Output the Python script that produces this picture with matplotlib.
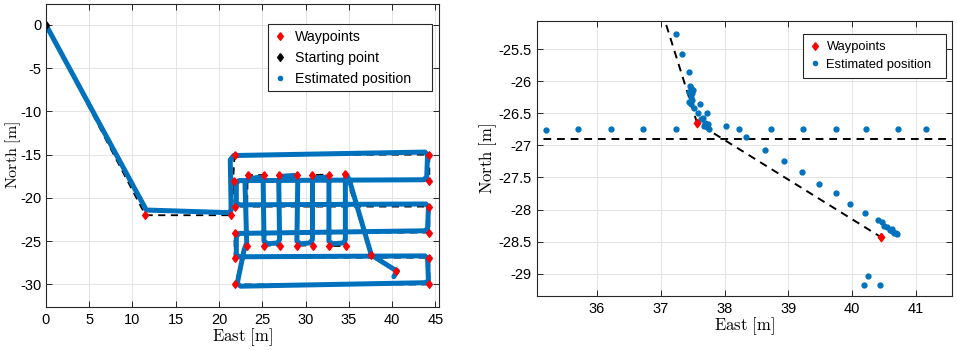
import matplotlib
matplotlib.use("Agg")
from matplotlib import pyplot as plt

plt.rcParams['axes.unicode_minus'] = False
plt.rcParams['font.family'] = ['Liberation Sans', 'DejaVu Sans']
plt.rcParams['mathtext.fontset'] = 'cm'

# -------------- data --------------

# reference path through the waypoints (dashed)
ref_east = [0, 11.5, 21.4, 21.8, 44.3, 44.3, 21.7, 21.8, 44.3, 44.3, 21.8, 21.8, 44.3,
            44.3, 21.8, 23.2, 23.3, 25.15, 25.15, 27.0, 26.9, 29.0, 29.0, 30.85, 30.8,
            32.7, 32.7, 34.7, 34.6, 37.57, 40.45]
ref_north = [0, -22.0, -22.0, -15.0, -15.0, -18.0, -18.0, -21.0, -21.0, -24.0, -24.0, -26.9,
             -26.9, -30.0, -30.0, -25.5, -17.35, -17.35, -25.5, -25.5, -17.35, -17.35, -25.5,
             -25.5, -17.35, -17.3, -25.55, -25.55, -17.25, -26.65, -28.43]

# waypoints (red diamonds)
wp_east = [11.5, 21.4, 21.8, 44.3, 21.7, 44.3, 21.8, 44.3, 21.8, 44.3, 21.8, 44.3, 21.8, 44.3,
           23.3, 25.15, 26.9, 29.0, 30.8, 32.7, 34.6,
           23.2, 25.15, 27.0, 29.0, 30.85, 32.7, 34.7,
           37.57, 40.45]
wp_north = [-22.0, -22.0, -15.0, -15.0, -18.0, -18.0, -21.0, -21.0, -24.0, -24.0, -27.0, -27.0,
            -30.0, -30.0,
            -17.35, -17.35, -17.35, -17.35, -17.35, -17.3, -17.25,
            -25.5, -25.5, -25.5, -25.5, -25.5, -25.55, -25.55,
            -26.65, -28.43]

start_east = [0.0]
start_north = [0.0]

# estimated trajectory, whole run (left panel)
est_east = [0, 11.6, 21.1, 21.4, 21.3, 21.7, 43.8, 44.1, 44.0, 43.6, 22.3, 22.0, 22.0, 22.4,
            43.9, 44.2, 44.1, 43.7, 22.4, 22.0, 22.0, 22.4, 43.8, 44.1, 44.2, 43.8, 22.5,
            22.1, 22.9, 23.2, 23.0, 23.4, 24.7, 25.1, 25.2, 25.6, 26.8, 27.0, 26.9, 27.3,
            28.7, 29.1, 29.0, 29.4, 30.5, 30.8, 30.8, 31.2, 32.4, 32.7, 32.7, 33.1, 34.4,
            34.6, 34.6, 34.8, 35.2, 37.6, 40.3, 40.6, 40.2]
est_north = [0, -21.4, -21.7, -21.4, -15.6, -15.1, -14.7, -15.0, -17.6, -17.9, -18.0, -18.3,
             -20.6, -20.8, -20.7, -21.0, -23.6, -23.8, -24.1, -24.4, -26.6, -26.8, -26.7,
             -27.0, -29.6, -29.8, -30.2, -29.9, -26.0, -25.2, -18.2, -17.8, -17.6, -18.0,
             -25.0, -25.3, -25.2, -24.8, -17.9, -17.5, -17.4, -17.9, -25.0, -25.3, -25.2,
             -24.8, -18.0, -17.7, -17.6, -18.0, -25.0, -25.3, -25.2, -24.8, -17.7, -17.4,
             -18.4, -26.6, -28.3, -28.4, -29.1]

# estimated positions around the last turn (right panel)
zoom_east = [35.21, 35.71, 36.22, 36.72, 37.24, 38.03, 38.23, 38.73, 39.23, 39.74, 40.22,
             40.72, 41.15, 38.33, 38.64, 38.93, 39.21, 39.48, 39.74, 39.97, 40.20, 40.40,
             40.46, 40.50, 40.55, 40.60, 40.62, 40.63, 40.66, 40.68, 40.70,
             40.19, 40.25, 40.44,
             37.24, 37.34, 37.44, 37.46, 37.48, 37.51, 37.45, 37.49, 37.47, 37.49, 37.45,
             37.48, 37.52, 37.62, 37.58, 37.72, 37.67, 37.63, 37.70, 37.74, 37.72, 37.75,
             37.68]
zoom_north = [-26.76, -26.74, -26.74, -26.74, -26.75, -26.70, -26.74, -26.74, -26.74, -26.74,
              -26.74, -26.74, -26.74, -26.87, -27.07, -27.25, -27.42, -27.60, -27.75, -27.91,
              -28.05, -28.17, -28.20, -28.25, -28.27, -28.32, -28.30, -28.34, -28.36, -28.37,
              -28.38,
              -29.17, -29.03, -29.17,
              -25.27, -25.57, -25.85, -26.08, -26.11, -26.13, -26.17, -26.19, -26.24, -26.29,
              -26.32, -26.35, -26.41, -26.36, -26.50, -26.50, -26.57, -26.59, -26.65, -26.66,
              -26.71, -26.74, -26.70]

blue = '#0072BD'
label_east = r'$\mathrm{East}\ [\mathrm{m}]$'
label_north = r'$\mathrm{North}\ [\mathrm{m}]$'
# MATLAB style diamond, a bit wider than matplotlib's thin one
diamond = [(0, 1), (0.75, 0), (0, -1), (-0.75, 0), (0, 1)]


def style_axes(ax):
    ax.grid(True, color='#e3e3e3', linewidth=0.7)
    ax.set_axisbelow(True)
    ax.tick_params(direction='in', top=True, right=True, length=4, width=0.7,
                   labelsize=10.5, colors='#262626', labelcolor='black', pad=4)
    for s in ax.spines.values():
        s.set_color('#262626')
        s.set_linewidth(0.8)


def frame_legend(leg):
    leg.get_frame().set_edgecolor('#262626')
    leg.get_frame().set_linewidth(0.8)


fig = plt.figure(figsize=(9.57, 3.5), dpi=100)

# -------------- left: whole mission --------------
ax1 = fig.add_axes([0.048, 0.123, 0.411, 0.866])
ax1.plot(ref_east, ref_north, '--', color='black', linewidth=1.3, dashes=(4, 3))
ax1.plot(est_east, est_north, '-', color=blue, linewidth=3.6, solid_capstyle='round',
         solid_joinstyle='round')
ax1.plot(wp_east, wp_north, marker=diamond, color='red', markersize=5.5, linestyle='none')
ax1.plot(start_east, start_north, marker=diamond, color='black', markersize=5.5,
         linestyle='none')
h_wp, = ax1.plot([], [], marker=diamond, color='red', markersize=5.5, linestyle='none')
h_st, = ax1.plot([], [], marker=diamond, color='black', markersize=5.5, linestyle='none')
h_est, = ax1.plot([], [], '.', color=blue, markersize=6, linestyle='none')
ax1.set_xlim(0, 45.45)
ax1.set_ylim(-32.6, 2.43)
ax1.set_xticks(range(0, 46, 5))
ax1.set_yticks(range(-30, 1, 5))
style_axes(ax1)
ax1.tick_params(axis='y', pad=3)
ax1.set_xlabel(label_east, fontsize=12, labelpad=0)
ax1.set_ylabel(label_north, fontsize=11.5, labelpad=-1.5)
# trailing spaces give the wide right margin of the MATLAB legend box
leg1 = ax1.legend([h_wp, h_st, h_est],
                  ['Waypoints', 'Starting point', 'Estimated position    '],
                  loc='upper right', bbox_to_anchor=(0.982, 0.934), borderaxespad=0,
                  fontsize=10.2, handlelength=0.9, handletextpad=0.6, borderpad=0.4,
                  labelspacing=0.5, fancybox=False, framealpha=1)
frame_legend(leg1)

# -------------- right: close-up of the last turn --------------
ax2 = fig.add_axes([0.561, 0.154, 0.4335, 0.786])
ax2.plot(ref_east, ref_north, '--', color='black', linewidth=1.4, dashes=(4, 3))
ax2.plot(zoom_east, zoom_north, '.', color=blue, markersize=7, linestyle='none')
ax2.plot(wp_east, wp_north, marker=diamond, color='red', markersize=6, linestyle='none')
h_wp2, = ax2.plot([], [], marker=diamond, color='red', markersize=5.5, linestyle='none')
h_est2, = ax2.plot([], [], '.', color=blue, markersize=6, linestyle='none')
ax2.set_xlim(35.06, 41.56)
ax2.set_ylim(-29.35, -25.06)
ax2.set_xticks(range(36, 42))
ax2.set_yticks([-29, -28.5, -28, -27.5, -27, -26.5, -26, -25.5])
ax2.set_yticklabels(['-29', '-28.5', '-28', '-27.5', '-27', '-26.5', '-26', '-25.5'])
style_axes(ax2)
ax2.set_xlabel(label_east, fontsize=12, labelpad=0)
ax2.set_ylabel(label_north, fontsize=12, labelpad=-1)
leg2 = ax2.legend([h_wp2, h_est2], ['Waypoints', 'Estimated position  '],
                  loc='upper right', bbox_to_anchor=(0.986, 0.953), borderaxespad=0,
                  fontsize=9.3, handlelength=0.8, handletextpad=0.45, borderpad=0.55,
                  labelspacing=0.45, fancybox=False, framealpha=1)
frame_legend(leg2)

fig.savefig('out.png', dpi=100)
